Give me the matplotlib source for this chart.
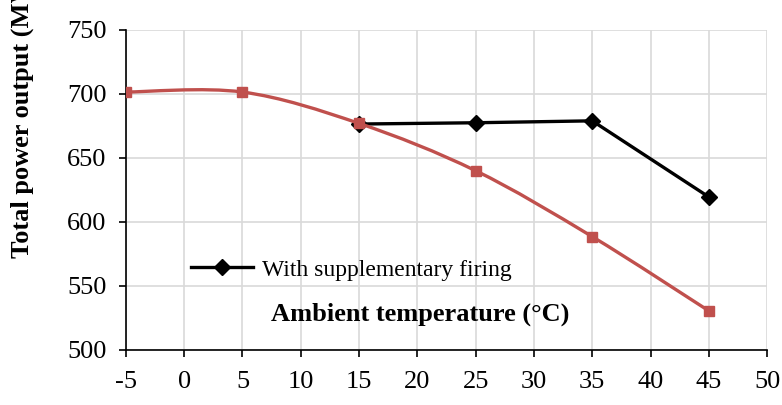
import numpy as np
import matplotlib.pyplot as plt
from matplotlib.path import Path
from matplotlib.patches import PathPatch

plt.rcParams['font.family'] = ['Liberation Serif', 'DejaVu Serif']
plt.rcParams['axes.unicode_minus'] = False

# Data
temps_base = [-5, 5, 15, 25, 35, 45]
power_base = [701.5, 701.5, 677, 640, 588.5, 530.5]
temps_sf = [15, 25, 35, 45]
power_sf = [676.5, 677.5, 679, 619.5]

red = '#C0504D'

fig = plt.figure(figsize=(7.82, 4.05), dpi=100)
ax = fig.add_axes([0.161, 0.136, 0.820, 0.790])


def smooth_path(xs, ys):
    # Excel-style smoothed line: cubic Bezier with Catmull-Rom control points
    pts = np.column_stack([xs, ys]).astype(float)
    n = len(pts)
    verts = [pts[0]]
    codes = [Path.MOVETO]
    for i in range(n - 1):
        p0 = pts[i - 1] if i > 0 else pts[i]
        p1, p2 = pts[i], pts[i + 1]
        p3 = pts[i + 2] if i + 2 < n else pts[i + 1]
        verts += [p1 + (p2 - p0) / 6, p2 - (p3 - p1) / 6, p2]
        codes += [Path.CURVE4] * 3
    return Path(verts, codes)


# With supplementary firing (straight segments)
ax.plot(temps_sf, power_sf, color='black', linewidth=2.4, marker='D',
        markersize=8, zorder=3, label='With supplementary firing')

# Base case (smoothed)
ax.add_patch(PathPatch(smooth_path(temps_base, power_base), fill=False,
                       edgecolor=red, linewidth=2.4, zorder=4))
ax.plot(temps_base, power_base, linestyle='none', marker='s', markersize=7,
        color=red, zorder=5)

ax.set_xlim(-5, 50)
ax.set_ylim(500, 750)
ax.set_xticks(np.arange(-5, 51, 5))
ax.set_yticks(np.arange(500, 751, 50))
ax.grid(True, color='#D9D9D9', linewidth=1.2, zorder=0)
ax.set_axisbelow(True)
for s in ['top', 'right']:
    ax.spines[s].set_visible(False)
for s in ['left', 'bottom']:
    ax.spines[s].set_linewidth(1.2)
ax.tick_params(direction='out', length=5, width=1.2, labelsize=19)
ax.tick_params(axis='x', pad=10)
ax.tick_params(axis='y', pad=9)

# Labels
fig.text(22 / 782, 1 - 258 / 405, 'Total power output (MW)', rotation=90,
         ha='center', va='bottom', fontsize=19, fontweight='bold')
ax.text(0.459, 0.11, 'Ambient temperature (°C)', transform=ax.transAxes,
        ha='center', va='center', fontsize=19, fontweight='bold')

ax.legend(loc='center left', bbox_to_anchor=(182 / 782, 1 - 270 / 405),
          bbox_transform=fig.transFigure, frameon=False, fontsize=17,
          handlelength=2.6, handletextpad=0.4, borderaxespad=0)

fig.savefig('out.png', dpi=100)
